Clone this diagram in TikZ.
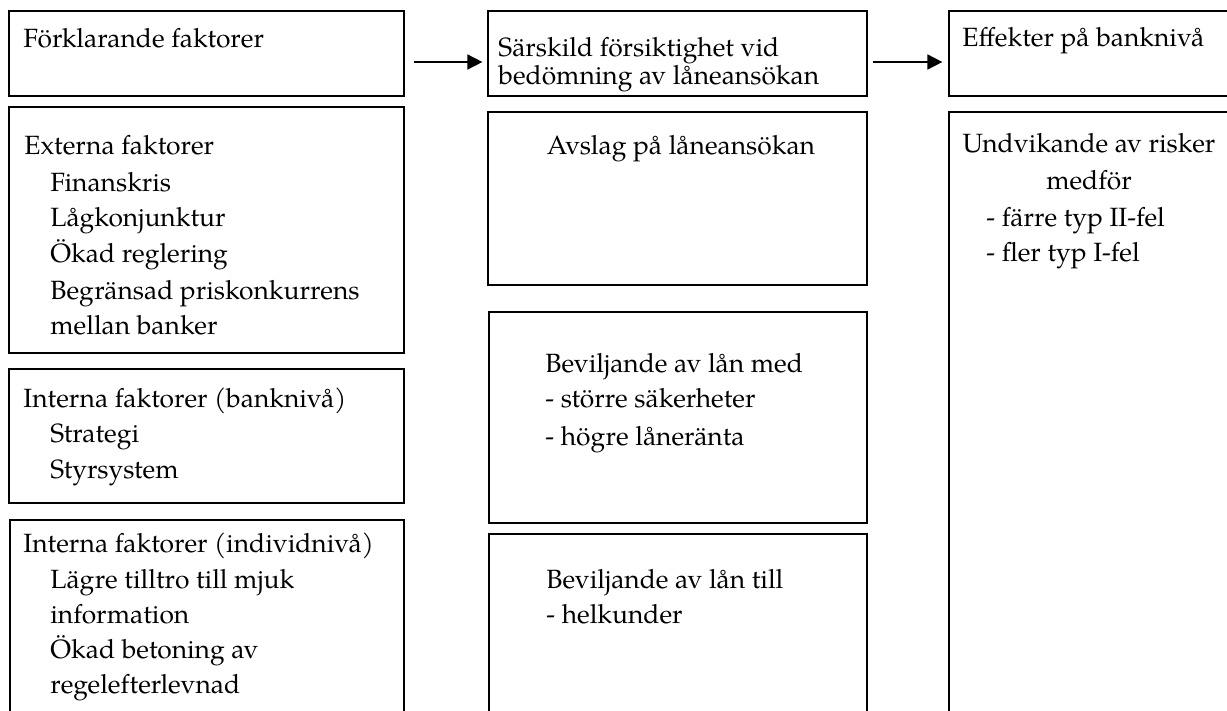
\documentclass[tikz,border=0pt]{standalone}
\usepackage{fontspec}
\setmainfont{TeX Gyre Pagella}
\usetikzlibrary{arrows.meta,fit}
\begin{document}
\begin{tikzpicture}[x=0.5pt,y=-0.5pt,
  box/.style={draw, line width=0.6pt, inner sep=0pt},
  txt/.style={anchor=base west, inner sep=0pt, font=\fontsize{13.2}{16}\selectfont},
  ctxt/.style={txt, anchor=base},
  arr/.style={-{Triangle[length=7.5pt,width=7.5pt]}, line width=0.8pt}]
\useasboundingbox (0,0) rectangle (1227,711);
\clip (0,0) rectangle (1227,711);
% boxes
\node[box, fit={(9,11) (404,96)}] (a) {};
\node[box, fit={(9,107) (404,353)}] (b) {};
\node[box, fit={(9,369) (404,503)}] (c) {};
\node[box, fit={(10,520) (404,740)}] (d) {};
\node[box, fit={(488,11) (867,96)}] (e) {};
\node[box, fit={(488,112) (867,285)}] (f) {};
\node[box, fit={(489,312) (867,523)}] (g) {};
\node[box, fit={(489,534) (867,740)}] (h) {};
\node[box, fit={(949,11) (1240,96)}] (i) {};
\node[box, fit={(949,112) (1240,740)}] (j) {};
% arrows
\draw[arr, shorten <=4.5pt, shorten >=2.5pt] ([yshift=-4.25pt]a.east) -- ([yshift=-4.25pt]e.west);
\draw[arr, shorten <=2.5pt, shorten >=3pt] ([yshift=-4.25pt]e.east) -- ([yshift=-4.25pt]i.west);
% texts
\node[txt] (ta) at (23,48) {Förklarande faktorer};
\node[txt] (te1) at (498,57) {Särskild försiktighet vid};
\node[txt] (te2) at (498,85) {bedömning av låneansökan};
\node[txt] (ti) at (962,47) {Effekter på banknivå};
\node[txt] (tb1) at (24,155) {Externa faktorer};
\node[txt] (tb2) at (50,192) {Finanskris};
\node[txt] (tb3) at (50,227) {Lågkonjunktur};
\node[txt] (tb4) at (50,263) {Ökad reglering};
\node[txt] (tb5) at (50,300) {Begränsad priskonkurrens};
\node[txt] (tb6) at (50,335) {mellan banker};
\node[txt] (tc1) at (23,408) {Interna faktorer (banknivå)};
\node[txt] (tc2) at (50,443) {Strategi};
\node[txt] (tc3) at (50,478) {Styrsystem};
\node[txt] (td1) at (23,552) {Interna faktorer (individnivå)};
\node[txt] (td2) at (50,588) {Lägre tilltro till mjuk};
\node[txt] (td3) at (50,623) {information};
\node[txt] (td4) at (50,658) {Ökad betoning av};
\node[txt] (td5) at (50,693) {regelefterlevnad};
\node[ctxt] (tf) at (681,155) {Avslag på låneansökan};
\node[txt] (tg1) at (545,372) {Beviljande av lån med};
\node[txt] (tg2) at (545,408) {- större säkerheter};
\node[txt] (tg3) at (545,445) {- högre låneränta};
\node[txt] (th1) at (546,588) {Beviljande av lån till};
\node[txt] (th2) at (546,623) {- helkunder};
\node[ctxt] (tj1) at (1089,153) {Undvikande av risker};
\node[ctxt] (tj2) at (1089,190) {medför};
\node[txt] (tj3) at (986,227) {- färre typ II-fel};
\node[txt] (tj4) at (986,262) {- fler typ I-fel};
\end{tikzpicture}
\end{document}
